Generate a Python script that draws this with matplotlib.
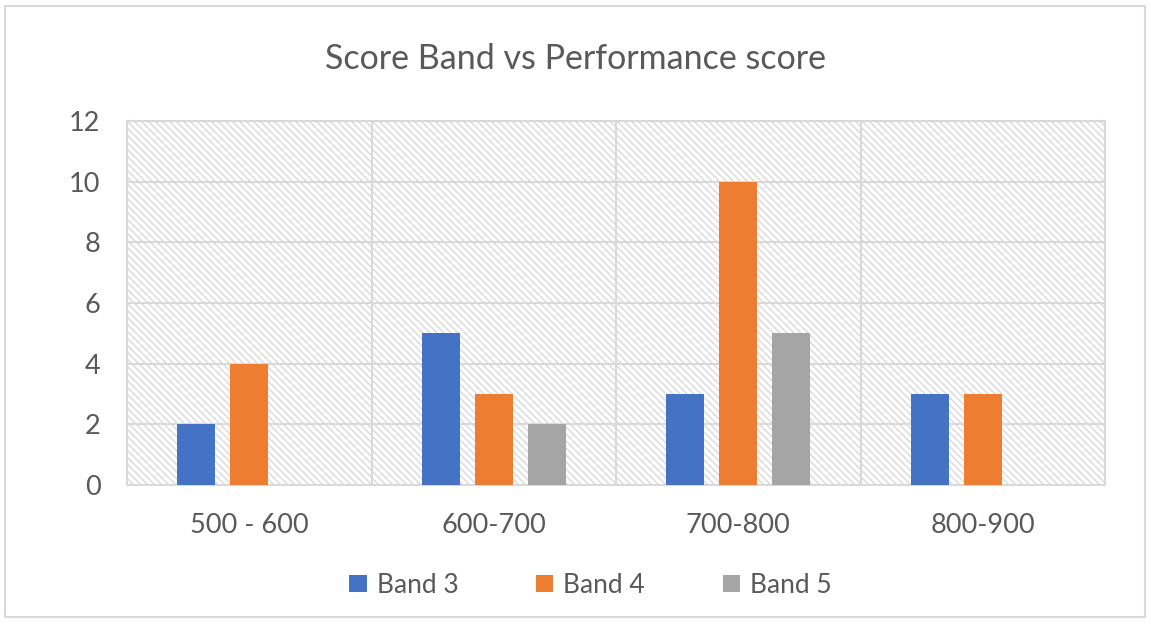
import matplotlib
matplotlib.use("Agg")
import matplotlib.pyplot as plt
import matplotlib.transforms as mtransforms
from matplotlib.collections import LineCollection
from matplotlib.patches import Rectangle
import numpy as np

categories = ["500 - 600", "600-700", "700-800", "800-900"]
band3 = [2, 5, 3, 3]
band4 = [4, 3, 10, 3]
band5 = [0, 2, 5, 0]
series_names = ["Band 3", "Band 4", "Band 5"]
colors = ["#4472C4", "#ED7D31", "#A5A5A5"]
y_ticks = [0, 2, 4, 6, 8, 10, 12]

plt.rcParams["font.family"] = ["Lato", "DejaVu Sans"]

W, H = 1151, 624
fig = plt.figure(figsize=(W / 100, H / 100), dpi=100)
fig.patch.set_facecolor("white")
# outer chart border
fig.add_artist(Rectangle((0.004, 0.011), 0.991, 0.98, transform=fig.transFigure,
                         fill=False, edgecolor="#D9D9D9", linewidth=1.5))

left, right, top, bottom = 127, 1105, 121, 485
aw, ah = right - left, bottom - top
ax = fig.add_axes([left / W, 1 - bottom / H, aw / W, ah / H])
ax.set_xlim(0, len(categories))
ax.set_ylim(0, 12)

# light diagonal hatching of the plot area, one line every 7 px
px = mtransforms.Affine2D().scale(1 / aw, 1 / ah) + ax.transAxes
starts = np.arange(-ah, aw + 7, 7)
segs = [[(s, ah), (s + ah, 0)] for s in starts]
hatch = LineCollection(segs, colors="#DCDCDC", linewidths=1.1, transform=px, zorder=0)
hatch.set_clip_path(ax.patch)
ax.add_collection(hatch, autolim=False)

x = np.arange(len(categories)) + 0.5
width = 0.155
offset = 0.217
for i, (vals, name, c) in enumerate(zip([band3, band4, band5], series_names, colors)):
    ax.bar(x + (i - 1) * offset, vals, width, color=c, label=name, zorder=3)

ax.set_yticks(y_ticks)
ax.set_xticks(x)
ax.set_xticklabels(categories)
ax.yaxis.grid(True, color="#D9D9D9", linewidth=1.5, zorder=1)
for b in range(1, len(categories)):
    ax.axvline(b, color="#D9D9D9", linewidth=1.5, zorder=1)
for s in ax.spines.values():
    s.set_color("#D9D9D9")
    s.set_linewidth(1.5)
ax.tick_params(length=0, colors="#595959", labelsize=19.5)
ax.tick_params(axis="x", pad=20)
ax.tick_params(axis="y", pad=19)

fig.text(0.5, 1 - 59 / H, "Score Band vs Performance score", ha="center", va="center",
         fontsize=24.5, color="#595959")

ax.legend(loc="center", bbox_to_anchor=(0.474, -0.275), ncol=3, frameon=False,
          fontsize=19, labelcolor="#595959", handlelength=0.65, handleheight=0.65,
          columnspacing=2.95, handletextpad=0.38)

fig.savefig("out.png", dpi=100)
